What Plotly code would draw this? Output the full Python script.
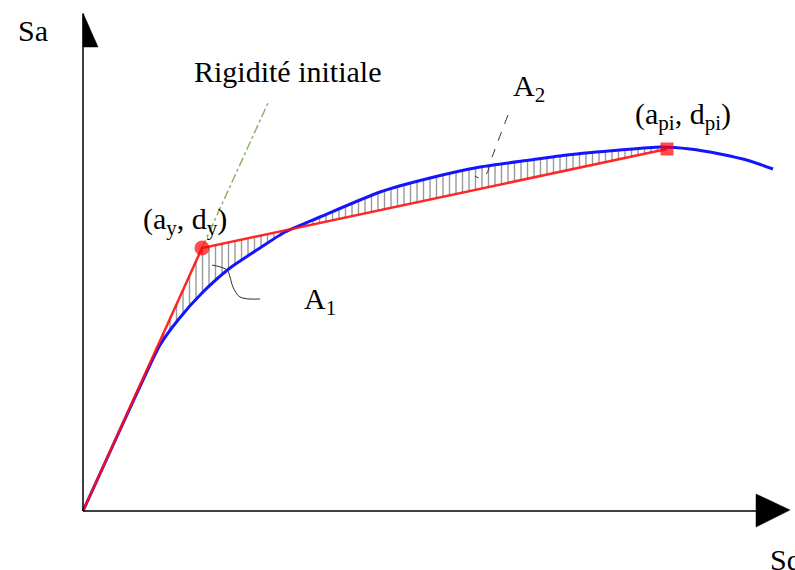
import numpy as np
import plotly.graph_objects as go

# Capacity curve (spectral displacement Sd, spectral acceleration Sa)
capacity_sd = [0, 37, 67, 77, 95, 119, 147, 177, 202, 237, 297, 347, 397, 447, 484, 537, 577, 607, 637, 667, 690]
capacity_sa = [0, 81, 146, 166, 191, 218, 243, 263, 279, 294, 319, 333, 344, 351, 356, 361, 364, 362, 357, 350, 342]

# Bilinear idealisation: origin, yield point (ay, dy), performance point (api, dpi)
bilinear_sd = [0, 119, 584]
bilinear_sa = [0, 263, 362]

# Initial stiffness line, prolonged beyond the yield point
stiffness_sd = [119, 185]
stiffness_sa = [263, 408]

# Hatch spacing for the areas A1 and A2
hatch_start, hatch_end, hatch_step = 74, 578, 6.5

RED = "#ff1111"
BLUE = "#1414ff"
SERIF = "Liberation Serif, Times New Roman, serif"

fig = go.Figure()

# hatch lines between bilinear and capacity curves
hx = np.arange(hatch_start, hatch_end, hatch_step)
red_y = np.interp(hx, bilinear_sd, bilinear_sa)
blue_y = np.interp(hx, capacity_sd, capacity_sa)
xs, ys = [], []
for x, a, b in zip(hx, red_y, blue_y):
    xs += [x, x, None]
    ys += [a, b, None]
fig.add_trace(go.Scatter(x=xs, y=ys, mode="lines",
                         line=dict(color="#9a9a9a", width=1.4), hoverinfo="skip"))

# initial stiffness (dash-dot)
fig.add_trace(go.Scatter(x=stiffness_sd, y=stiffness_sa, mode="lines",
                         line=dict(color="#8db36b", width=1.5, dash="dashdot")))

# capacity curve
fig.add_trace(go.Scatter(x=capacity_sd, y=capacity_sa, mode="lines",
                         line=dict(color=BLUE, width=3, shape="spline", smoothing=0.6)))

# bilinear curve
fig.add_trace(go.Scatter(x=bilinear_sd, y=bilinear_sa, mode="lines",
                         line=dict(color=RED, width=2.5), opacity=0.9))

# yield and performance points
fig.add_trace(go.Scatter(x=bilinear_sd[1:], y=bilinear_sa[1:], mode="markers",
                         marker=dict(color="#ff0000", size=[15, 13], symbol=["circle", "square"],
                                     line=dict(width=0))))

# leader for A1
fig.add_trace(go.Scatter(x=[129, 144, 147, 150, 157, 177], y=[246, 241, 234, 224, 214, 212],
                         mode="lines", line=dict(color="#333333", width=1, shape="spline")))
# leader for A2
fig.add_trace(go.Scatter(x=[425, 407, 404, 397, 392], y=[396, 348, 338, 333, 335],
                         mode="lines", line=dict(color="#333333", width=1, dash="dash", shape="spline")))

# axes with arrow heads
shapes = [
    dict(type="line", x0=0, y0=0, x1=0, y1=497, line=dict(color="black", width=1.5)),
    dict(type="line", x0=0, y0=0, x1=680, y1=0, line=dict(color="black", width=1.5)),
    dict(type="path", path="M 0 498 L 0 464 L 15 464 Z", fillcolor="black",
         line=dict(color="black", width=0.5)),
    dict(type="path", path="M 673 17 L 707 1 L 673 -16 Z", fillcolor="black",
         line=dict(color="black", width=0.5)),
]

def label(text, x, y, xanchor="center"):
    return dict(x=x, y=y, xref="x", yref="y", text=text, showarrow=False,
                xanchor=xanchor, yanchor="middle",
                font=dict(family=SERIF, size=30, color="black"))

annotations = [
    label("Sa", -50, 481),
    label("Sd", 685, -48, xanchor="left"),
    label("Rigidité initiale", 204, 440),
    label("(a<sub>y</sub>, d<sub>y</sub>)", 102, 290),
    label("(a<sub>pi</sub>, d<sub>pi</sub>)", 600, 395),
    label("A<sub>1</sub>", 237, 210),
    label("A<sub>2</sub>", 446, 423),
]

fig.update_layout(
    width=795, height=570,
    margin=dict(l=0, r=0, t=0, b=0),
    paper_bgcolor="white", plot_bgcolor="white",
    showlegend=False,
    xaxis=dict(range=[-83, 712], visible=False, fixedrange=True),
    yaxis=dict(range=[-59, 511], visible=False, fixedrange=True),
    shapes=shapes,
    annotations=annotations,
)

fig.write_html("out.html")
